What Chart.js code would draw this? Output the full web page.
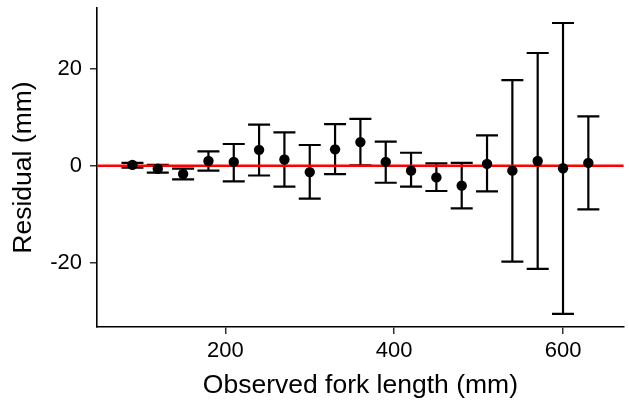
<!DOCTYPE html>
<html>
<head>
<meta charset="utf-8">
<script src="https://cdn.jsdelivr.net/npm/chart.js@4.4.1/dist/chart.umd.min.js"></script>
<style>
  html, body { margin: 0; padding: 0; background: #ffffff; }
  #wrap { width: 629px; height: 407px; }
</style>
</head>
<body>
<div id="wrap"><canvas id="residuals"></canvas></div>
<script>
// Residuals by fork-length bin (mean with error bar limits)
const forkLength = [90, 120, 150, 180, 210, 240, 270, 300, 330, 360, 390, 420, 450, 480, 510, 540, 570, 600, 630];
const residual   = [0.2, -0.6, -1.7, 1.0, 0.8, 3.3, 1.3, -1.3, 3.4, 4.9, 0.8, -1.0, -2.4, -4.1, 0.4, -1.0, 1.0, -0.5, 0.6];
const upperLimit = [0.6, 0.2, -0.6, 3.0, 4.5, 8.5, 6.9, 4.3, 8.6, 9.7, 5.0, 2.7, 0.5, 0.6, 6.3, 17.7, 23.3, 29.5, 10.2];
const lowerLimit = [-0.4, -1.4, -2.8, -1.0, -3.2, -2.0, -4.3, -6.8, -1.7, 0.1, -3.5, -4.3, -5.2, -8.8, -5.3, -19.8, -21.3, -30.6, -9.0];

const xTicks = [200, 400, 600];
const yTicks = [-20, 0, 20];
const xRange = [48, 672];
const yRange = [-33.3, 32.6];
const refLine = 0;

const FONT = "'Liberation Sans', Arial, sans-serif";

// draws the vertical error bars under the points
const errorBars = {
  id: 'errorBars',
  beforeDatasetsDraw(chart) {
    const { ctx, scales: { x, y } } = chart;
    const cap = 11;
    ctx.save();
    ctx.strokeStyle = '#000000';
    ctx.lineWidth = 2.2;
    ctx.lineCap = 'butt';
    forkLength.forEach((fl, i) => {
      const px = x.getPixelForValue(fl);
      const top = y.getPixelForValue(upperLimit[i]);
      const bot = y.getPixelForValue(lowerLimit[i]);
      ctx.beginPath();
      ctx.moveTo(px, top);
      ctx.lineTo(px, bot);
      ctx.moveTo(px - cap, top);
      ctx.lineTo(px + cap, top);
      ctx.moveTo(px - cap, bot);
      ctx.lineTo(px + cap, bot);
      ctx.stroke();
    });
    ctx.restore();
  }
};

new Chart(document.getElementById('residuals'), {
  type: 'scatter',
  data: {
    datasets: [
      {
        label: 'Residual',
        data: forkLength.map((fl, i) => ({ x: fl, y: residual[i] })),
        backgroundColor: '#000000',
        borderColor: '#000000',
        pointRadius: 5.2,
        pointBorderWidth: 0
      },
      {
        label: 'Zero',
        type: 'line',
        data: xRange.map(v => ({ x: v, y: refLine })),
        borderColor: '#ff0000',
        borderWidth: 2.4,
        pointRadius: 0
      }
    ]
  },
  options: {
    responsive: true,
    maintainAspectRatio: false,
    animation: false,
    layout: { padding: { top: 8, right: 4, left: 0, bottom: 0 } },
    plugins: {
      legend: { display: false },
      tooltip: { enabled: false }
    },
    scales: {
      x: {
        type: 'linear',
        min: xRange[0],
        max: xRange[1],
        afterBuildTicks: s => { s.ticks = xTicks.map(v => ({ value: v })); },
        afterFit: s => { s.height = 80; s.paddingLeft = 0; s.paddingRight = 0; },
        grid: { drawOnChartArea: false, drawTicks: true, tickLength: 7, color: '#333333', lineWidth: 1.5 },
        border: { display: true, color: '#000000', width: 1.6 },
        ticks: { color: '#000000', padding: 4, font: { family: FONT, size: 22 } },
        title: {
          display: true,
          text: 'Observed fork length (mm)',
          color: '#000000',
          padding: { top: 0, bottom: 5 },
          font: { family: FONT, size: 26.5 }
        }
      },
      y: {
        type: 'linear',
        min: yRange[0],
        max: yRange[1],
        afterBuildTicks: s => { s.ticks = yTicks.map(v => ({ value: v })); },
        afterFit: s => { s.width = 97; s.paddingTop = 0; s.paddingBottom = 0; },
        grid: { drawOnChartArea: false, drawTicks: true, tickLength: 7, color: '#333333', lineWidth: 1.5 },
        border: { display: true, color: '#000000', width: 1.6 },
        ticks: { color: '#000000', padding: 8, font: { family: FONT, size: 22 } },
        title: {
          display: true,
          text: 'Residual (mm)',
          color: '#000000',
          padding: { top: 8, bottom: 0 },
          font: { family: FONT, size: 26.5 }
        }
      }
    }
  },
  plugins: [errorBars]
});
</script>
</body>
</html>
